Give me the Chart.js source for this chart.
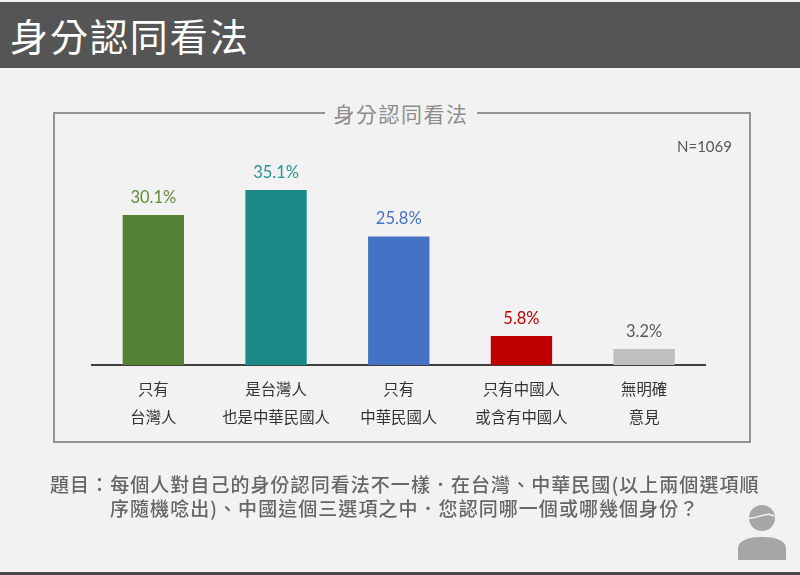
<!DOCTYPE html>
<html lang="zh-Hant"><head><meta charset="utf-8">
<script src="https://cdn.jsdelivr.net/npm/chart.js@4"></script>
<style>
html,body{margin:0;padding:0;background:#f2f2f2;}
#page{position:relative;width:800px;height:575px;overflow:hidden;background:#f2f2f2;font-family:"Noto Sans CJK TC",sans-serif;}
#page>div{position:absolute;white-space:nowrap;}
#band{left:0;top:2px;width:800px;height:66px;background:#555;}
#head{left:10px;top:10px;font-size:38px;line-height:50px;letter-spacing:1.95px;color:#fff;}
#frame{left:53px;top:112px;width:694px;height:327px;border:2px solid #949494;}
#ftitle{left:325px;top:99px;width:152px;text-align:center;background:#f2f2f2;font-size:21px;line-height:28px;letter-spacing:1.5px;color:#8c8c8c;}
#n{left:677px;top:136px;font-family:Lato,sans-serif;font-size:15px;line-height:20px;color:#595959;}
.note{font-size:19px;line-height:24px;letter-spacing:1.05px;color:#666;font-weight:500;}
#n1{left:50px;top:472px;}
#n2{left:110px;top:496px;}
#foot{left:0;top:572px;width:800px;height:3px;background:#4a4a4a;}
canvas{position:absolute;left:0;top:0;}
svg{position:absolute;left:736px;top:505px;}
</style></head>
<body><div id="page">
<div id="band"></div><div id="head">身分認同看法</div>
<div id="frame"></div><div id="ftitle">身分認同看法</div>
<canvas id="c" width="800" height="575"></canvas>
<div id="n">N=1069</div>
<div id="n1" class="note">題目：每個人對自己的身份認同看法不一樣．在台灣、中華民國(以上兩個選項順</div>
<div id="n2" class="note">序隨機唸出)、中國這個三選項之中．您認同哪一個或哪幾個身份？</div>
<svg width="52" height="58" viewBox="0 0 52 58"><circle cx="26" cy="13" r="13" fill="#a6a6a6"/><path d="M2 55V44C2 35 13 32 26 32S50 35 50 44V55Z" fill="#a6a6a6"/><path d="M13 13C22 14 30 6 38 11" stroke="#f2f2f2" stroke-width="1.5" fill="none"/></svg>
<div id="foot"></div>
</div>
<script>
const categories=[["只有","台灣人"],["是台灣人","也是中華民國人"],["只有","中華民國人"],["只有中國人","或含有中國人"],["無明確","意見"]];
const values=[30.1,35.1,25.8,5.8,3.2];
const barColors=["#548235","#1b8a86","#4472c4","#c00000","#bfbfbf"];
const labelColors=["#5f8a3a","#2a9490","#4472c4","#c00000","#595959"];
const barLabels={id:"barLabels",afterDatasetsDraw(chart){
  const ctx=chart.ctx;ctx.save();
  ctx.font='16.5px Lato, sans-serif';ctx.textAlign="center";ctx.textBaseline="middle";
  chart.getDatasetMeta(0).data.forEach((b,i)=>{ctx.fillStyle=labelColors[i];ctx.fillText(values[i].toFixed(1)+"%",b.x,b.y-17.5);});
  ctx.restore();
}};
new Chart(document.getElementById("c"),{
  type:"bar",
  data:{labels:categories,datasets:[{data:values,backgroundColor:barColors,borderWidth:0,barPercentage:0.5,categoryPercentage:1}]},
  options:{responsive:false,animation:false,
    layout:{padding:{left:92,right:94.5,top:115.75,bottom:0}},
    plugins:{legend:{display:false},tooltip:{enabled:false},title:{display:false}},
    scales:{
      y:{display:false,min:0,max:50},
      x:{
        afterFit(s){s.height=210;},
        grid:{display:false,drawTicks:false},
        border:{display:true,color:"#404040",width:2},
        ticks:{color:"#333333",padding:10,maxRotation:0,autoSkip:false,font:{family:'"Noto Sans CJK TC"',size:15.4,lineHeight:1.82}}
      }
    }
  },
  plugins:[barLabels]
});
</script>
</body></html>
